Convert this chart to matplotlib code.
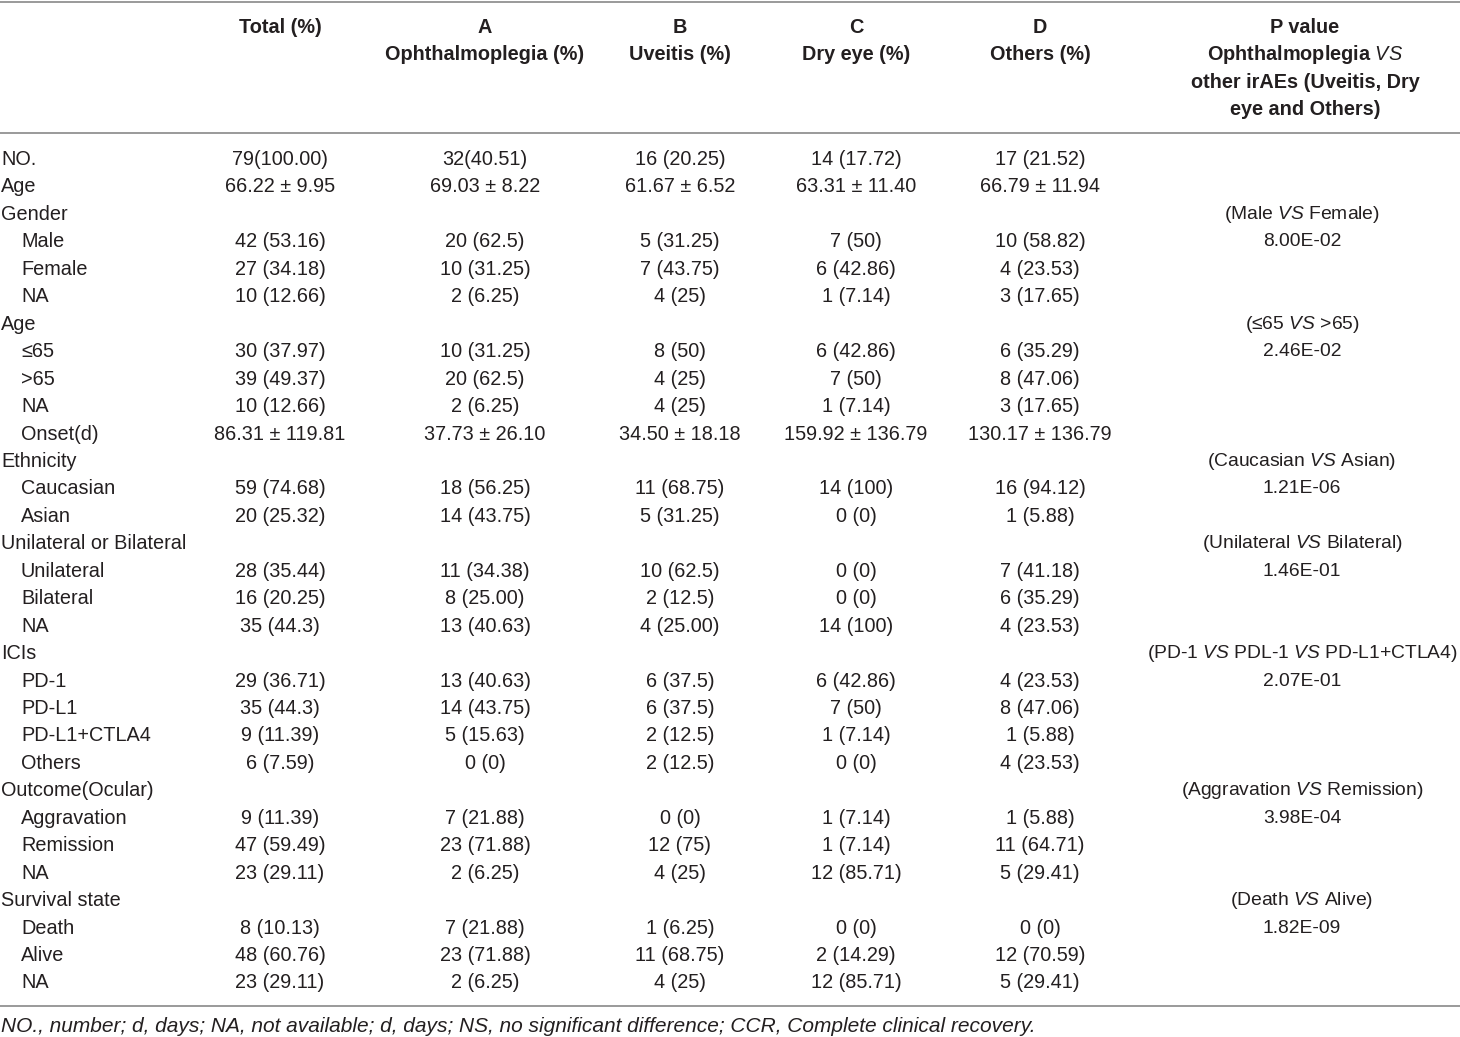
import matplotlib
matplotlib.use("Agg")
import matplotlib.pyplot as plt

FONT = "Liberation Sans"
plt.rcParams['font.family'] = [FONT, 'DejaVu Sans']
plt.rcParams['mathtext.fontset'] = 'custom'
plt.rcParams['mathtext.rm'] = FONT
plt.rcParams['mathtext.it'] = FONT + ':italic'
plt.rcParams['mathtext.bf'] = FONT + ':bold'

# ---------------- data ----------------
header_total = ["Total (%)"]
header_groups = [["A", "Ophthalmoplegia (%)"], ["B", "Uveitis (%)"],
                 ["C", "Dry eye (%)"], ["D", "Others (%)"]]
header_p = ["P value", "Ophthalmoplegia $\\mathit{VS}$", "other irAEs (Uveitis, Dry",
            "eye and Others)"]

row_labels = ["NO.", "Age", "Gender", "Male", "Female", "NA", "Age", "≤65", ">65", "NA",
              "Onset(d)", "Ethnicity", "Caucasian", "Asian", "Unilateral or Bilateral",
              "Unilateral", "Bilateral", "NA", "ICIs", "PD-1", "PD-L1", "PD-L1+CTLA4",
              "Others", "Outcome(Ocular)", "Aggravation", "Remission", "NA",
              "Survival state", "Death", "Alive", "NA"]
row_indent = [0, 0, 0, 1, 1, 1, 0, 1, 1, 1, 1, 0, 1, 1, 0, 1, 1, 1, 0, 1, 1, 1, 1,
              0, 1, 1, 1, 0, 1, 1, 1]

total = ["79(100.00)", "66.22 ± 9.95", "", "42 (53.16)", "27 (34.18)", "10 (12.66)", "",
         "30 (37.97)", "39 (49.37)", "10 (12.66)", "86.31 ± 119.81", "", "59 (74.68)",
         "20 (25.32)", "", "28 (35.44)", "16 (20.25)", "35 (44.3)", "", "29 (36.71)",
         "35 (44.3)", "9 (11.39)", "6 (7.59)", "", "9 (11.39)", "47 (59.49)",
         "23 (29.11)", "", "8 (10.13)", "48 (60.76)", "23 (29.11)"]
group_a = ["32(40.51)", "69.03 ± 8.22", "", "20 (62.5)", "10 (31.25)", "2 (6.25)", "",
           "10 (31.25)", "20 (62.5)", "2 (6.25)", "37.73 ± 26.10", "", "18 (56.25)",
           "14 (43.75)", "", "11 (34.38)", "8 (25.00)", "13 (40.63)", "", "13 (40.63)",
           "14 (43.75)", "5 (15.63)", "0 (0)", "", "7 (21.88)", "23 (71.88)", "2 (6.25)",
           "", "7 (21.88)", "23 (71.88)", "2 (6.25)"]
group_b = ["16 (20.25)", "61.67 ± 6.52", "", "5 (31.25)", "7 (43.75)", "4 (25)", "",
           "8 (50)", "4 (25)", "4 (25)", "34.50 ± 18.18", "", "11 (68.75)", "5 (31.25)",
           "", "10 (62.5)", "2 (12.5)", "4 (25.00)", "", "6 (37.5)", "6 (37.5)",
           "2 (12.5)", "2 (12.5)", "", "0 (0)", "12 (75)", "4 (25)", "", "1 (6.25)",
           "11 (68.75)", "4 (25)"]
group_c = ["14 (17.72)", "63.31 ± 11.40", "", "7 (50)", "6 (42.86)", "1 (7.14)", "",
           "6 (42.86)", "7 (50)", "1 (7.14)", "159.92 ± 136.79", "", "14 (100)", "0 (0)",
           "", "0 (0)", "0 (0)", "14 (100)", "", "6 (42.86)", "7 (50)", "1 (7.14)",
           "0 (0)", "", "1 (7.14)", "1 (7.14)", "12 (85.71)", "", "0 (0)", "2 (14.29)",
           "12 (85.71)"]
group_d = ["17 (21.52)", "66.79 ± 11.94", "", "10 (58.82)", "4 (23.53)", "3 (17.65)", "",
           "6 (35.29)", "8 (47.06)", "3 (17.65)", "130.17 ± 136.79", "", "16 (94.12)",
           "1 (5.88)", "", "7 (41.18)", "6 (35.29)", "4 (23.53)", "", "4 (23.53)",
           "8 (47.06)", "1 (5.88)", "4 (23.53)", "", "1 (5.88)", "11 (64.71)",
           "5 (29.41)", "", "0 (0)", "12 (70.59)", "5 (29.41)"]
p_values = ["", "", "(Male $\\mathit{VS}$ Female)", "8.00E-02", "", "", "(≤65 $\\mathit{VS}$ >65)",
            "2.46E-02", "", "", "", "(Caucasian $\\mathit{VS}$ Asian)", "1.21E-06", "",
            "(Unilateral $\\mathit{VS}$ Bilateral)", "1.46E-01", "", "",
            "(PD-1 $\\mathit{VS}$ PDL-1 $\\mathit{VS}$ PD-L1+CTLA4)", "2.07E-01", "", "", "",
            "(Aggravation $\\mathit{VS}$ Remission)", "3.98E-04", "", "",
            "(Death $\\mathit{VS}$ Alive)", "1.82E-09", "", ""]
footnote = ("NO., number; d, days; NA, not available; d, days; NS, no significant difference; "
            "CCR, Complete clinical recovery.")

# ---------------- layout ----------------
W, H = 1460, 1037
fig = plt.figure(figsize=(W / 100, H / 100), dpi=100)
ax = fig.add_axes([0, 0, 1, 1])
ax.set_xlim(0, W)
ax.set_ylim(H, 0)
ax.axis('off')

FS = 14.3
FS_P = 13.9
TXT = '#231f20'
LINE = '#9a9a9a'
col_x = [280, 485, 680, 856, 1040]
p_x = 1302
row_y0, row_dy = 159.5, 27.45
head_y0, head_dy = 27.5, 27.3

for y in (2, 133, 1006):
    ax.plot([0, W], [y, y], color=LINE, lw=1.4, solid_capstyle='butt')

head_kw = dict(ha='center', va='center', fontsize=FS, fontweight='bold', color=TXT)
for x, lines in zip(col_x + [p_x + 3], [header_total] + header_groups + [header_p]):
    for j, s in enumerate(lines):
        ax.text(x, head_y0 + j * head_dy, s, **head_kw)

columns = [total, group_a, group_b, group_c, group_d]
for i, lab in enumerate(row_labels):
    y = row_y0 + i * row_dy
    ax.text(1 + 20 * row_indent[i], y, lab, ha='left', va='center', fontsize=FS, color=TXT)
    for x, col in zip(col_x, columns):
        if col[i]:
            ax.text(x, y, col[i], ha='center', va='center', fontsize=FS, color=TXT)
    if p_values[i]:
        ax.text(p_x, y, p_values[i], ha='center', va='center', fontsize=FS_P, color=TXT)

ax.text(1, 1027, footnote, ha='left', va='center', fontsize=15.0, style='italic',
        color=TXT)

fig.savefig("out.png", dpi=100, facecolor='white')
